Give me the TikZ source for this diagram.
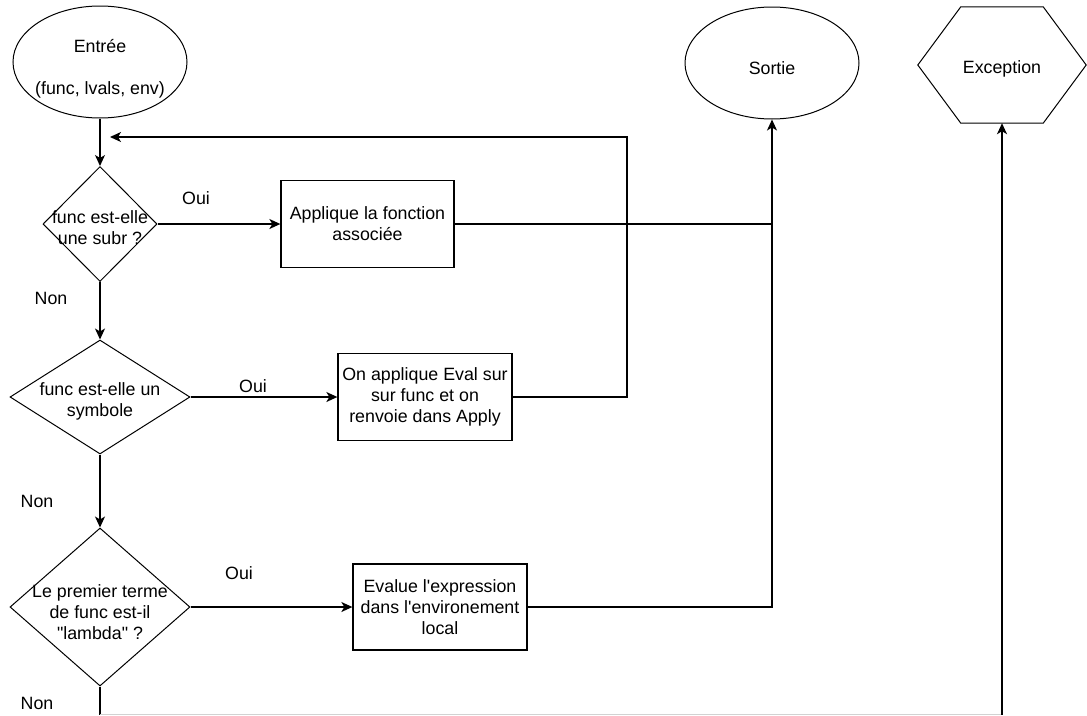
\documentclass[tikz,border=0pt]{standalone}
\usepackage{fontspec}
\setmainfont{Liberation Sans}
\usetikzlibrary{shapes.geometric,arrows.meta}
\begin{document}
\begin{tikzpicture}[x=1pt,y=-1pt,
  every node/.style={font=\fontsize{17.8}{21}\selectfont},
  shp/.style={draw, line width=1pt, inner sep=0pt},
  oval/.style={shp, ellipse, minimum width=174pt, minimum height=112pt},
  dia/.style={shp, diamond},
  box/.style={shp, line width=1.3pt, rectangle, align=center},
  txt/.style={align=center, inner sep=0pt},
  lbl/.style={inner sep=0pt},
  conn/.style={line width=1.4pt},
  arr/.style={conn, -{Stealth[length=11pt,width=10pt,inset=3pt]}}
]
\useasboundingbox (0,0) rectangle (1087,715);

% terminals
\node[oval] (entree) at (100,62) {};
\node[txt] (entreetxt) at (100,69) {Entrée\\[21pt](func, lvals, env)};
\node[oval] (sortie) at (772,63) {};
\node[txt] (sortietxt) at (772,68) {Sortie};
\node[inner sep=0pt, minimum width=168pt, minimum height=116pt] (exc) at (1002,65) {};
\node[txt] (exctxt) at (1002,69) {Exception};
\draw[line width=1pt] (exc.west) -- ([xshift=43pt]exc.north west) -- ([xshift=-43pt]exc.north east)
  -- (exc.east) -- ([xshift=-43pt]exc.south east) -- ([xshift=43pt]exc.south west) -- cycle;

% decisions
\node[dia, minimum width=114pt, minimum height=115pt] (d1) at (100,224) {};
\node[txt] (d1t) at (100,228) {func est-elle\\une subr ?};
\node[dia, minimum width=180pt, minimum height=114pt] (d2) at (100,397) {};
\node[txt] (d2t) at (100,401) {func est-elle un\\symbole};
\node[dia, minimum width=180pt, minimum height=158pt] (d3) at (100,607) {};
\node[txt] (d3t) at (100,612) {Le premier terme\\de func est-il\\\textquotedbl lambda\textquotedbl{} ?};

% actions
\node[box, minimum width=173pt, minimum height=87pt] (b1) at (367.5,224) {Applique la fonction\\associée};
\node[box, minimum width=174pt, minimum height=87pt] (b2) at (425,397) {On applique Eval sur\\sur func et on\\renvoie dans Apply};
\node[box, minimum width=174pt, minimum height=86pt] (b3) at (440,607) {Evalue l\textquotesingle expression\\dans l\textquotesingle environement\\local};

% labels
\node[lbl] (oui1) at (196,198) {Oui};
\node[lbl] (non1) at (51,298) {Non};
\node[lbl] (oui2) at (253,386) {Oui};
\node[lbl] (non2) at (37,501) {Non};
\node[lbl] (oui3) at (239,573) {Oui};
\node[lbl] (non3) at (37,703) {Non};

% connectors
\draw[arr] (entree.south) -- (d1.north);
\draw[arr] (d1.east) -- (b1.west);
\draw[arr] (d1.south) -- (d2.north);
\draw[arr] (d2.east) -- (b2.west);
\draw[arr] (d2.south) -- (d3.north);
\draw[arr] (d3.east) -- (b3.west);

\coordinate (j1) at (sortie.south |- b1.east);
\draw[conn] (b1.east) -- (j1);
\draw[arr] (b3.east) -| (sortie.south);

\coordinate (fbc) at (627,137);
\coordinate (fb) at (110,137);
\draw[arr] (b2.east) -| (fbc) -- (fb);

\coordinate (c1) at (100,714.5);
\coordinate (c2) at (1002,714.5);
\draw[conn] (d3.south) -- (c1);
\draw[gray!35, line width=1pt] (c1) -- (c2);
\draw[arr] (c2) -- (exc.south);
\end{tikzpicture}
\end{document}
